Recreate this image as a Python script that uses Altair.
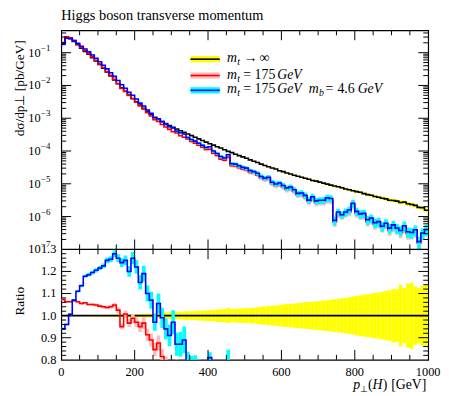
import altair as alt
import pandas as pd

# ---------------- data ----------------
bin_low = list(range(0, 1000, 10))   # p_T(H) bin lower edges [GeV]
bin_width = 10

# log10 of dsigma/dpT [pb/GeV], m_t -> infinity
black_log10 = [
    -0.72, -0.54, -0.57, -0.66, -0.76, -0.86, -0.96, -1.05, -1.15, -1.25,
    -1.36, -1.47, -1.59, -1.71, -1.83, -1.95, -2.07, -2.18, -2.29, -2.40,
    -2.50, -2.60, -2.70, -2.79, -2.88, -2.97, -3.04, -3.10, -3.16, -3.22,
    -3.28, -3.33, -3.38, -3.43, -3.48, -3.53, -3.58, -3.63, -3.68, -3.73,
    -3.78, -3.82, -3.87, -3.91, -3.96, -4.01, -4.05, -4.10, -4.14, -4.18,
    -4.22, -4.27, -4.31, -4.35, -4.40, -4.44, -4.48, -4.52, -4.55, -4.60,
    -4.63, -4.67, -4.70, -4.74, -4.77, -4.80, -4.83, -4.86, -4.90, -4.92,
    -4.95, -4.98, -5.01, -5.04, -5.07, -5.09, -5.12, -5.16, -5.18, -5.21,
    -5.24, -5.26, -5.30, -5.33, -5.35, -5.39, -5.41, -5.44, -5.46, -5.50,
    -5.51, -5.53, -5.57, -5.56, -5.61, -5.63, -5.66, -5.72, -5.73, -5.81,
]
black_relerr = [
    0.004, 0.003, 0.003, 0.003, 0.003, 0.003, 0.003, 0.003, 0.004, 0.004,
    0.004, 0.004, 0.004, 0.005, 0.005, 0.005, 0.005, 0.006, 0.006, 0.006,
    0.007, 0.007, 0.008, 0.009, 0.010, 0.011, 0.012, 0.013, 0.014, 0.015,
    0.016, 0.017, 0.018, 0.019, 0.020, 0.020, 0.021, 0.022, 0.023, 0.024,
    0.025, 0.026, 0.028, 0.029, 0.030, 0.034, 0.030, 0.031, 0.032, 0.033,
    0.034, 0.035, 0.036, 0.038, 0.040, 0.041, 0.043, 0.045, 0.046, 0.048,
    0.050, 0.052, 0.053, 0.055, 0.057, 0.058, 0.060, 0.062, 0.063, 0.065,
    0.066, 0.068, 0.070, 0.072, 0.074, 0.076, 0.078, 0.080, 0.083, 0.086,
    0.090, 0.092, 0.094, 0.097, 0.100, 0.103, 0.105, 0.108, 0.111, 0.115,
    0.122, 0.118, 0.140, 0.125, 0.145, 0.150, 0.132, 0.125, 0.135, 0.140,
]
# ratio to m_t -> infinity, m_t = 175 GeV
red_ratio = [
    1.073, 1.063, 1.063, 1.067, 1.063, 1.055, 1.058, 1.050, 1.050, 1.048,
    1.043, 1.040, 1.037, 1.040, 1.048, 1.025, 0.950, 1.007, 0.966, 0.988,
    0.970, 0.950, 0.966, 0.913, 0.890, 0.846, 0.876, 0.815, 0.780, 0.760,
    0.740, 0.760, 0.700, 0.710, 0.700, 0.660, 0.660, 0.640, 0.620, 0.600,
    0.680, 0.570, 0.540, 0.460, 0.480, 0.660, 0.400, 0.440, 0.430, 0.420,
    0.440, 0.410, 0.430, 0.410, 0.370, 0.370, 0.430, 0.330, 0.310, 0.370,
    0.340, 0.310, 0.360, 0.320, 0.270, 0.300, 0.270, 0.210, 0.290, 0.220,
    0.250, 0.270, 0.330, 0.340, 0.080, 0.150, 0.140, 0.180, 0.210, 0.360,
    0.220, 0.200, 0.220, 0.150, 0.180, 0.140, 0.160, 0.130, 0.170, 0.120,
    0.160, 0.140, 0.120, 0.170, 0.120, 0.130, 0.160, 0.080, 0.160, 0.240,
]
red_relerr = [
    0.005, 0.004, 0.004, 0.004, 0.004, 0.005, 0.005, 0.005, 0.006, 0.006,
    0.007, 0.007, 0.008, 0.009, 0.010, 0.012, 0.014, 0.016, 0.018, 0.020,
    0.022, 0.025, 0.027, 0.030, 0.033, 0.036, 0.039, 0.042, 0.045, 0.048,
    0.051, 0.055, 0.058, 0.062, 0.066, 0.070, 0.074, 0.078, 0.082, 0.086,
    0.090, 0.090, 0.100, 0.100, 0.110, 0.110, 0.110, 0.120, 0.120, 0.120,
    0.130, 0.130, 0.140, 0.140, 0.150, 0.150, 0.160, 0.160, 0.170, 0.170,
    0.180, 0.180, 0.190, 0.190, 0.200, 0.200, 0.210, 0.210, 0.220, 0.220,
    0.230, 0.230, 0.240, 0.240, 0.280, 0.250, 0.250, 0.260, 0.260, 0.270,
    0.270, 0.280, 0.280, 0.290, 0.290, 0.300, 0.300, 0.310, 0.310, 0.320,
    0.320, 0.330, 0.330, 0.340, 0.340, 0.350, 0.350, 0.380, 0.360, 0.360,
]
# ratio to m_t -> infinity, m_t = 175 GeV, m_b = 4.6 GeV
blue_ratio = [
    0.940, 0.960, 1.006, 1.070, 1.110, 1.135, 1.178, 1.185, 1.195, 1.205,
    1.215, 1.225, 1.250, 1.255, 1.280, 1.260, 1.240, 1.250, 1.200, 1.260,
    1.220, 1.150, 1.190, 1.100, 1.070, 0.970, 1.055, 0.990, 0.940, 0.910,
    0.970, 0.870, 0.870, 0.890, 0.780, 0.760, 0.760, 0.740, 0.710, 0.690,
    0.810, 0.660, 0.620, 0.550, 0.560, 0.790, 0.460, 0.500, 0.490, 0.480,
    0.500, 0.470, 0.480, 0.470, 0.420, 0.410, 0.480, 0.370, 0.350, 0.420,
    0.380, 0.350, 0.400, 0.360, 0.300, 0.330, 0.300, 0.230, 0.320, 0.250,
    0.280, 0.300, 0.380, 0.390, 0.090, 0.170, 0.150, 0.200, 0.240, 0.410,
    0.250, 0.220, 0.250, 0.170, 0.200, 0.160, 0.180, 0.140, 0.180, 0.140,
    0.180, 0.150, 0.140, 0.190, 0.140, 0.140, 0.180, 0.090, 0.170, 0.260,
]
blue_relerr = [
    0.006, 0.005, 0.005, 0.005, 0.005, 0.006, 0.006, 0.007, 0.007, 0.008,
    0.008, 0.009, 0.010, 0.011, 0.012, 0.014, 0.016, 0.018, 0.020, 0.022,
    0.025, 0.028, 0.030, 0.033, 0.036, 0.040, 0.043, 0.046, 0.050, 0.053,
    0.056, 0.060, 0.064, 0.068, 0.072, 0.076, 0.080, 0.085, 0.090, 0.095,
    0.030, 0.100, 0.100, 0.110, 0.110, 0.070, 0.120, 0.120, 0.130, 0.130,
    0.140, 0.140, 0.150, 0.150, 0.160, 0.160, 0.170, 0.170, 0.180, 0.180,
    0.190, 0.190, 0.200, 0.200, 0.210, 0.210, 0.220, 0.220, 0.230, 0.230,
    0.240, 0.240, 0.250, 0.250, 0.300, 0.260, 0.260, 0.270, 0.270, 0.280,
    0.280, 0.290, 0.290, 0.300, 0.300, 0.310, 0.310, 0.320, 0.320, 0.330,
    0.330, 0.340, 0.340, 0.350, 0.350, 0.360, 0.360, 0.400, 0.370, 0.370,
]

x_tick_labels = [0, 200, 400, 600, 800, 1000]
x_minor_ticks = [50, 100, 150, 250, 300, 350, 450, 500, 550, 650, 700, 750, 850, 900, 950]
y_decades = [-1, -2, -3, -4, -5, -6, -7]
ratio_tick_labels = [0.8, 0.9, 1.0, 1.1, 1.2, 1.3]

# ---------------- layout ----------------
W, HM, HR = 372, 222, 112
H = HM + HR
FONT = "Liberation Serif"
n = len(bin_low)

xs = alt.Scale(domain=[0, 1000], nice=False, zero=False)
ym = alt.Scale(type="log", domain=[1e-7, 0.48], range=[HM, 0], nice=False)
yr = alt.Scale(type="linear", domain=[0.8, 1.3], range=[H, HM], nice=False, zero=False)

series = [
    ([1.0] * n, black_relerr, "#ffff00", "#000000"),
    (red_ratio, red_relerr, "#ffbcbc", "#ff0000"),
    (blue_ratio, blue_relerr, "#00ffff", "#0000ff"),
]

main_layers, ratio_layers = [], []
edges = bin_low + [bin_low[-1] + bin_width]
for ratio, err, band_c, line_c in series:
    ref = [10 ** black_log10[i] for i in range(n)]
    val = [ref[i] * ratio[i] for i in range(n)]
    band = pd.DataFrame({
        "lo": bin_low,
        "hi": [b + bin_width for b in bin_low],
        "m1": [val[i] * (1 - err[i]) for i in range(n)],
        "m2": [val[i] * (1 + err[i]) for i in range(n)],
        "r1": [ratio[i] * (1 - err[i]) for i in range(n)],
        "r2": [ratio[i] * (1 + err[i]) for i in range(n)],
    })
    line = pd.DataFrame({
        "e": edges,
        "v": val + [val[-1]],
        "r": ratio + [ratio[-1]],
    })
    main_layers.append(alt.Chart(band).mark_rect(color=band_c, clip=True).encode(
        x=alt.X("lo:Q", scale=xs, axis=None), x2="hi:Q",
        y=alt.Y("m1:Q", scale=ym, axis=None), y2="m2:Q"))
    main_layers.append(alt.Chart(line).mark_line(interpolate="step-after", color=line_c,
                                                 strokeWidth=1.6, clip=True).encode(
        x=alt.X("e:Q", scale=xs, axis=None), y=alt.Y("v:Q", scale=ym, axis=None)))
    ratio_layers.append(alt.Chart(band).mark_rect(color=band_c, clip=True).encode(
        x=alt.X("lo:Q", scale=xs, axis=None), x2="hi:Q",
        y=alt.Y("r1:Q", scale=yr, axis=None), y2="r2:Q"))
    ratio_layers.append(alt.Chart(line).mark_line(interpolate="step-after", color=line_c,
                                                  strokeWidth=1.6, clip=True).encode(
        x=alt.X("e:Q", scale=xs, axis=None), y=alt.Y("r:Q", scale=yr, axis=None)))


def hticks(values, scale, length):
    df = pd.DataFrame({"v": values})
    out = []
    for x0, x1 in [(0, length), (W - length, W)]:
        out.append(alt.Chart(df).mark_rule(color="black", strokeWidth=1).encode(
            y=alt.Y("v:Q", scale=scale, axis=None), x=alt.value(x0), x2=alt.value(x1)))
    return out


# main y ticks and labels
main_major = [10.0 ** k for k in y_decades if k > -7]
main_minor = [m * 10.0 ** k for k in range(-7, 0) for m in range(2, 10) if m * 10.0 ** k <= 0.48]
main_layers += hticks(main_major, ym, 10) + hticks(main_minor, ym, 5)
dec_df = pd.DataFrame({"v": [10.0 ** k for k in y_decades],
                       "e": ["\u2212" + str(-k) for k in y_decades]})
main_layers.append(alt.Chart(dec_df).mark_text(text="10", font=FONT, fontSize=12.5, align="right",
                                               baseline="middle", color="black").encode(
    y=alt.Y("v:Q", scale=ym, axis=None), x=alt.value(-21)))
main_layers.append(alt.Chart(dec_df).mark_text(font=FONT, fontSize=9, align="left",
                                               baseline="middle", dy=-5, color="black").encode(
    y=alt.Y("v:Q", scale=ym, axis=None), x=alt.value(-20.5), text="e:N"))

# ratio ticks and labels
r_major = [0.9, 1.0, 1.1, 1.2]
r_minor = [round(0.8 + 0.02 * i, 2) for i in range(1, 25)]
r_minor = [v for v in r_minor if all(abs(v - m) > 1e-6 for m in r_major)]
ratio_layers += hticks(r_major, yr, 10) + hticks(r_minor, yr, 5)
ratio_layers.append(alt.Chart(pd.DataFrame({"r": ratio_tick_labels})).mark_text(
    font=FONT, fontSize=12.5, align="right", baseline="middle", color="black").encode(
    y=alt.Y("r:Q", scale=yr, axis=None), x=alt.value(-5), text=alt.Text("r:Q", format=".1f")))

main_chart = alt.layer(*main_layers)
ratio_chart = alt.layer(*ratio_layers)

# x ticks (top, divider both ways, bottom) and labels
other = []
for vals, ln in [([200, 400, 600, 800], 10), (x_minor_ticks, 5)]:
    df = pd.DataFrame({"t": vals})
    for y0, y1 in [(0, ln), (HM - ln, HM + ln), (H - ln, H)]:
        other.append(alt.Chart(df).mark_rule(color="black", strokeWidth=1).encode(
            x=alt.X("t:Q", scale=xs, axis=None), y=alt.value(y0), y2=alt.value(y1)))
other.append(alt.Chart(pd.DataFrame({"t": x_tick_labels})).mark_text(
    font=FONT, fontSize=12.5, align="center", baseline="alphabetic", color="black").encode(
    x=alt.X("t:Q", scale=xs, axis=None), y=alt.value(H + 16), text=alt.Text("t:Q", format="d")))

one = pd.DataFrame({"k": [0]})
# divider between panels
other.append(alt.Chart(one).mark_rule(color="black", strokeWidth=1.2).encode(
    x=alt.value(0), x2=alt.value(W), y=alt.value(HM)))


def label(text, x, y, size=14, style="normal", align="left", angle=0, baseline="alphabetic"):
    return alt.Chart(one).mark_text(text=text, font=FONT, fontSize=size, fontStyle=style,
                                    align=align, baseline=baseline, angle=angle,
                                    color="black").encode(x=alt.value(x), y=alt.value(y))


# title and axis titles
other.append(label("Higgs boson transverse momentum", 0, -11, size=14.5))
other.append(label("d\u03c3/dp\u22a5 [pb/GeV]", -42, 10, size=13.5, align="right",
                   angle=270, baseline="middle"))
other.append(label("Ratio", -42, 260, size=13.5, align="right", angle=270, baseline="middle"))
XB = H + 29.5
other += [
    label("p", 296, XB, style="italic"),
    label("\u22a5", 303.3, XB + 3, size=9.5),
    label("(", 311, XB),
    label("H", 315.5, XB, style="italic"),
    label(")", 326, XB),
    label("[GeV]", 334.5, XB),
]

# legend
legend_rows = [29.2, 45.8, 60.8]
legend_band = ["#ffff00", "#ffbcbc", "#00ffff"]
legend_line = ["#000000", "#ff0000", "#0000ff"]
for c, bc, lc in zip(legend_rows, legend_band, legend_line):
    other.append(alt.Chart(one).mark_rect(color=bc).encode(
        x=alt.value(131), x2=alt.value(160.7), y=alt.value(c - 3.2), y2=alt.value(c + 3.2)))
    other.append(alt.Chart(one).mark_rule(color=lc, strokeWidth=1.6).encode(
        x=alt.value(131), x2=alt.value(160.7), y=alt.value(c)))

b1, b2, b3 = 32.5, 49.0, 64.0
other += [
    label("m", 168, b1, style="italic"), label("t", 178.3, b1 + 3, size=10, style="italic"),
    label("\u2192", 185, b1), label("\u221e", 201, b1),
    label("m", 168, b2, style="italic"), label("t", 178.3, b2 + 3, size=10, style="italic"),
    label("=", 184.5, b2), label("175", 196, b2), label("GeV", 219, b2, style="italic"),
    label("m", 168, b3, style="italic"), label("t", 178.3, b3 + 3, size=10, style="italic"),
    label("=", 184.5, b3), label("175", 196, b3), label("GeV", 219, b3, style="italic"),
    label("m", 251, b3, style="italic"), label("b", 261.3, b3 + 3, size=10, style="italic"),
    label("=", 268, b3), label("4.6", 280, b3), label("GeV", 300.5, b3, style="italic"),
]

chart = alt.layer(main_chart, ratio_chart, *other).resolve_scale(y="independent").properties(
    width=W, height=H,
    padding={"left": 54, "top": 20, "right": 13, "bottom": 32},
    autosize=alt.AutoSizeParams(type="none"),
).configure_view(stroke="black", strokeWidth=1.2)

chart.save("out.html", embed_options={"renderer": "svg", "actions": False})
